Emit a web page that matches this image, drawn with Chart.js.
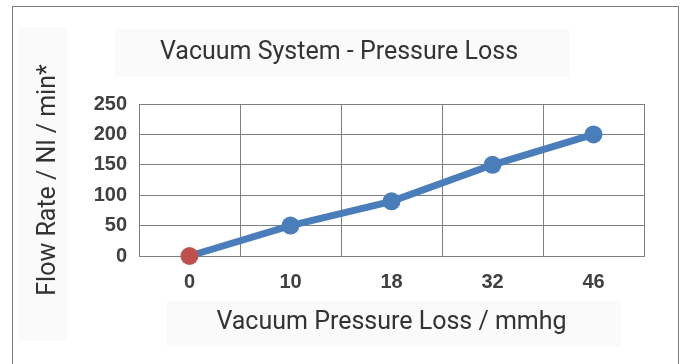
<!DOCTYPE html>
<html>
<head>
<meta charset="utf-8">
<script src="https://cdn.jsdelivr.net/npm/chart.js@4.4.1/dist/chart.umd.min.js"></script>
<style>
  html, body { margin: 0; padding: 0; background: #ffffff; }
  #wrap { width: 684px; height: 364px; position: relative; }
</style>
</head>
<body>
<div id="wrap"><canvas id="c" width="684" height="364"></canvas></div>
<script>
const categories = ['0', '10', '18', '32', '46'];
const flowRate = [0, 50, 90, 150, 200];
const yTicks = [0, 50, 100, 150, 200, 250];
const chartTitle = 'Vacuum System - Pressure Loss';
const xTitle = 'Vacuum Pressure Loss / mmhg';
const yTitle = 'Flow Rate / Nl / min*';

const decor = {
  id: 'decor',
  beforeDraw(chart) {
    const ctx = chart.ctx;
    ctx.save();
    ctx.fillStyle = '#ffffff';
    ctx.fillRect(0, 0, chart.width, chart.height);
    ctx.fillStyle = '#fafafa';
    ctx.fillRect(115, 29, 454, 48);
    ctx.fillRect(18, 27, 49, 314);
    ctx.fillRect(167, 301, 454, 45);
    ctx.strokeStyle = '#808080';
    ctx.lineWidth = 1;
    ctx.strokeRect(12.5, 6.5, 666, 400);
    ctx.restore();
  }
};

new Chart(document.getElementById('c'), {
  type: 'line',
  data: {
    labels: categories,
    datasets: [{
      data: flowRate,
      borderColor: '#4a7ebb',
      borderWidth: 7,
      pointRadius: 9,
      pointHoverRadius: 9,
      pointBorderWidth: 0,
      pointBackgroundColor: (c) => c.dataIndex === 0 ? '#c0504d' : '#4a7ebb',
      tension: 0,
      clip: false
    }]
  },
  options: {
    responsive: false,
    animation: false,
    events: [],
    layout: { padding: { left: 34, right: 40, top: 0, bottom: 28 } },
    plugins: {
      legend: { display: false },
      tooltip: { enabled: false },
      title: {
        display: true,
        text: chartTitle,
        color: '#333333',
        font: { family: 'Roboto', size: 25, weight: 'normal', lineHeight: 1.2 },
        padding: { top: 38, bottom: 36 }
      }
    },
    scales: {
      x: {
        offset: true,
        grid: { offset: true, color: '#7f7f7f', lineWidth: 1, drawTicks: false },
        border: { color: '#7f7f7f' },
        ticks: { color: '#404040', padding: 14, font: { family: 'Liberation Sans', size: 20, weight: 'bold' } },
        title: {
          display: true, text: xTitle, color: '#333333',
          font: { family: 'Roboto', size: 25, weight: 'normal', lineHeight: 1.2 },
          padding: { top: 0, bottom: -2 }
        },
        afterFit(s) { s.height = 364 - 28 - 256; }
      },
      y: {
        min: 0, max: 250,
        afterBuildTicks(s) { s.ticks = yTicks.map(v => ({ value: v })); },
        grid: { color: '#7f7f7f', lineWidth: 1, drawTicks: false },
        border: { color: '#7f7f7f' },
        ticks: { color: '#404040', padding: 12, font: { family: 'Liberation Sans', size: 20, weight: 'bold' } },
        title: {
          display: true, text: yTitle, color: '#333333',
          font: { family: 'Roboto', size: 25, weight: 'normal', lineHeight: 1.2 },
          padding: { top: 0, bottom: 0 }
        },
        afterFit(s) { s.width = 139 - 34; }
      }
    }
  },
  plugins: [decor]
});
</script>
</body>
</html>
